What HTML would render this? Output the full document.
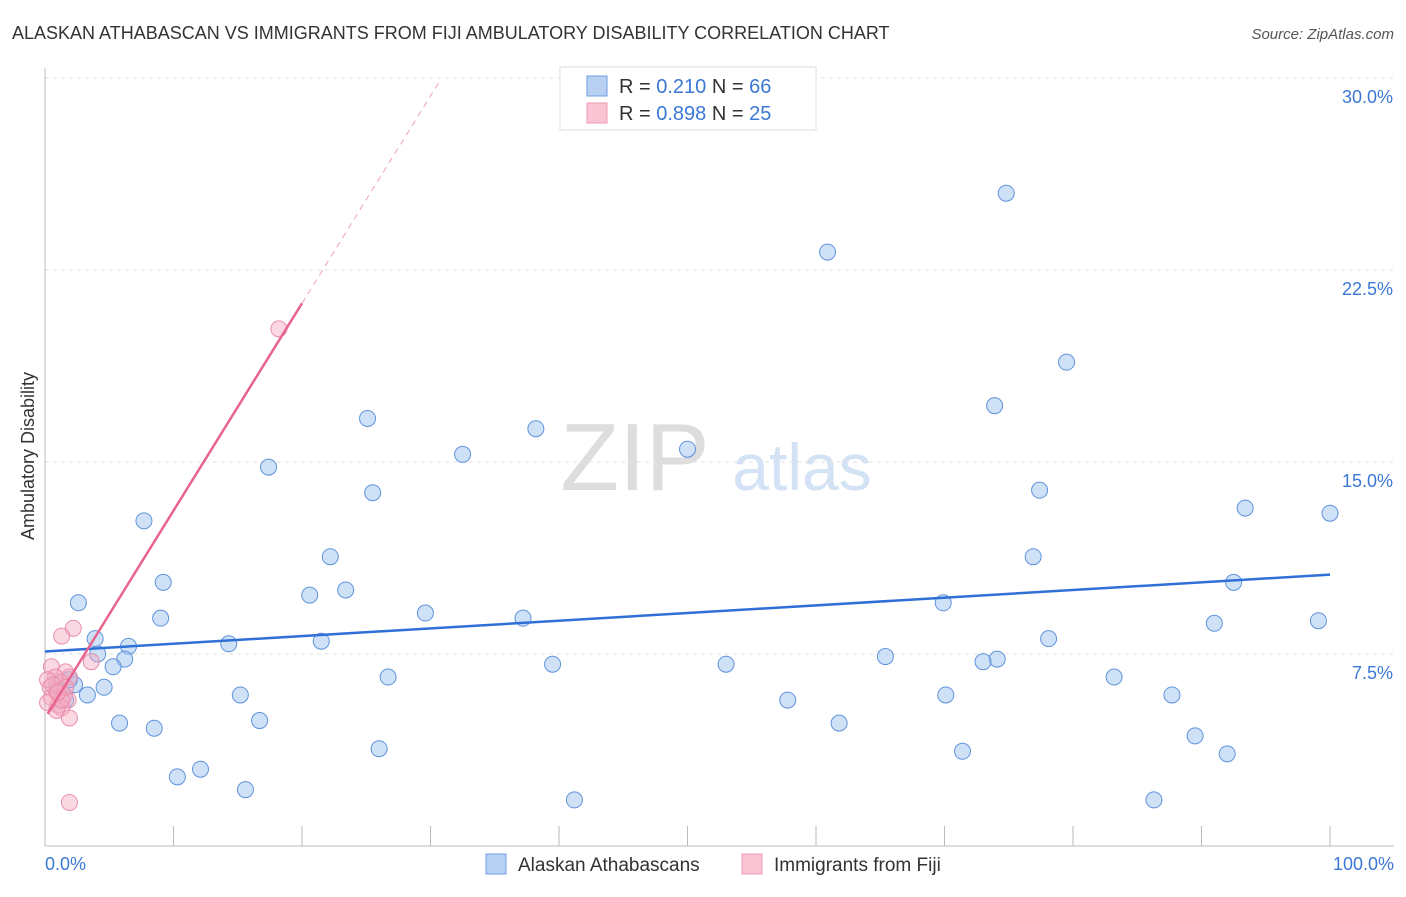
<!DOCTYPE html>
<html><head><meta charset="utf-8"><style>
body{margin:0;background:#fff;font-family:"Liberation Sans",sans-serif}
svg text{font-family:"Liberation Sans",sans-serif}
</style></head><body>
<svg id="c" width="1406" height="892">
<text x="12" y="39" font-size="18" fill="#333">ALASKAN ATHABASCAN VS IMMIGRANTS FROM FIJI AMBULATORY DISABILITY CORRELATION CHART</text>
<text x="1394" y="39" font-size="15" fill="#555" font-style="italic" text-anchor="end">Source: ZipAtlas.com</text>
<text x="635" y="490" font-size="96" fill="#ddd" font-family="Liberation Serif" text-anchor="middle">ZIP</text>
<text x="802" y="490" font-size="66" fill="#d3e2f5" text-anchor="middle">atlas</text>
<text transform="translate(34,456) rotate(-90)" font-size="18" fill="#333" text-anchor="middle">Ambulatory Disability</text>
<g id="grid"></g><g id="marks"></g>
<g>
<rect x="560" y="67" width="256" height="63" fill="#fff" stroke="#ddd"/>
<rect x="587" y="76" width="20" height="20" fill="#b7d0f2" stroke="#6d9ee0"/>
<text x="619" y="93" font-size="20" fill="#333">R = <tspan fill="#3b78d6">0.210</tspan>   N = <tspan fill="#3b78d6">66</tspan></text>
<rect x="587" y="103" width="20" height="20" fill="#f9c4d3" stroke="#ee9ab3"/>
<text x="619" y="120" font-size="20" fill="#333">R = <tspan fill="#3b78d6">0.898</tspan>   N = <tspan fill="#3b78d6">25</tspan></text>
</g>
<g>
<rect x="486" y="854" width="20" height="20" fill="#b7d0f2" stroke="#6d9ee0"/>
<text x="518" y="871" font-size="19" fill="#333">Alaskan Athabascans</text>
<rect x="742" y="854" width="20" height="20" fill="#f9c4d3" stroke="#ee9ab3"/>
<text x="774" y="871" font-size="19" fill="#333">Immigrants from Fiji</text>
</g>
</svg>
<script>
const yTicks=[7.5,15,22.5,30];
const yTickLabels=["7.5%","15.0%","22.5%","30.0%"];
const xTicks=[0,10,20,30,40,50,60,70,80,90,100];
const blueX=[74.8,60.9,79.5,73.9,25.1,38.2,32.5,50.0,17.4,25.5,77.4,93.4,100,7.7,76.9,22.2,9.2,23.4,92.5,20.6,2.6,69.9,29.6,9.0,37.2,91.0,99.1,3.9,14.3,21.5,78.1,6.5,4.1,6.2,65.4,74.1,73.0,39.5,53.0,5.3,26.7,83.2,2.3,4.6,0.9,3.3,15.2,70.1,87.7,1.6,57.8,5.8,16.7,61.8,8.5,89.5,26.0,71.4,92.0,12.1,10.3,15.6,41.2,86.3,1.2,1.9];
const blueY=[25.5,23.2,18.9,17.2,16.7,16.3,15.3,15.5,14.8,13.8,13.9,13.2,13.0,12.7,11.3,11.3,10.3,10.0,10.3,9.8,9.5,9.5,9.1,8.9,8.9,8.7,8.8,8.1,7.9,8.0,8.1,7.8,7.5,7.3,7.4,7.3,7.2,7.1,7.1,7.0,6.6,6.6,6.3,6.2,6.3,5.9,5.9,5.9,5.9,5.7,5.7,4.8,4.9,4.8,4.6,4.3,3.8,3.7,3.6,3.0,2.7,2.2,1.8,1.8,6.1,6.5];
const pinkX=[18.2,2.2,1.3,3.6,0.5,1.6,1.9,0.8,1.2,0.4,0.9,1.5,0.5,1.8,1.0,1.3,0.9,1.9,1.9,0.2,0.6,1.6,1.3,0.2,1.0];
const pinkY=[20.2,8.5,8.2,7.2,7.0,6.8,6.6,6.6,6.4,6.2,6.0,5.9,5.8,5.7,5.5,5.4,5.3,5.0,1.7,6.5,6.3,6.2,5.7,5.6,6.0];
const blueTrend=[7.6,0.03];
const pinkTrend=[5.0,0.81];
const X=v=>45+v*12.85, Y=v=>846-v*25.6;
const NS="http://www.w3.org/2000/svg";
function mk(t,a,p){const e=document.createElementNS(NS,t);for(const k in a)e.setAttribute(k,a[k]);p.appendChild(e);return e;}
const g=document.getElementById('grid'), m=document.getElementById('marks');
yTicks.forEach((v,i)=>{
 const l=mk('line',{x1:45,x2:1394,y1:Y(v),y2:Y(v),stroke:'#e2e2e2','stroke-dasharray':'4,4'},g);
 
 
 const t=mk('text',{x:1393,y:Y(v)+25,'font-size':18,fill:'#3b78d6','text-anchor':'end'},g);
 t.textContent=yTickLabels[i];
 
 
});
const ax=mk('line',{x1:45,x2:45,y1:68,y2:846,stroke:'#bbb'},g);


const bx=mk('line',{x1:45,x2:1394,y1:846,y2:846,stroke:'#bbb'},g);


xTicks.forEach(v=>{
 const l=mk('line',{x1:X(v),x2:X(v),y1:826,y2:846,stroke:'#bbb'},g);
 
 
});
[[0,'0.0%','start',45],[100,'100.0%','end',1394]].forEach(a=>{
 const t=mk('text',{x:a[3],y:870,'font-size':18,fill:'#3b78d6','text-anchor':a[2]},g);
 t.textContent=a[1];
 
 
});
blueX.forEach((x,i)=>{
 const c=mk('circle',{cx:X(x),cy:Y(blueY[i]),r:8,fill:'rgba(160,196,240,0.5)',stroke:'#5f93dc','stroke-width':1},m);
 
 
});
pinkX.forEach((x,i)=>{
 const c=mk('circle',{cx:X(x),cy:Y(pinkY[i]),r:8,fill:'rgba(245,170,192,0.45)',stroke:'#ea8eab','stroke-width':1},m);
 
 
});
const bt=mk('line',{x1:X(0),y1:Y(blueTrend[0]),x2:X(100),y2:Y(blueTrend[0]+blueTrend[1]*100),stroke:'#2f6fd6','stroke-width':2.5},m);


const pt=mk('line',{x1:X(0.2),y1:Y(pinkTrend[0]+pinkTrend[1]*0.2),x2:X(20),y2:Y(pinkTrend[0]+pinkTrend[1]*20),stroke:'#e8638e','stroke-width':2.5},m);


const pd=mk('line',{x1:X(20),y1:Y(pinkTrend[0]+pinkTrend[1]*20),x2:X(30.7),y2:Y(pinkTrend[0]+pinkTrend[1]*30.7),stroke:'#eea0b8','stroke-width':1,'stroke-dasharray':'6,5'},m);


</script>
</body></html>
